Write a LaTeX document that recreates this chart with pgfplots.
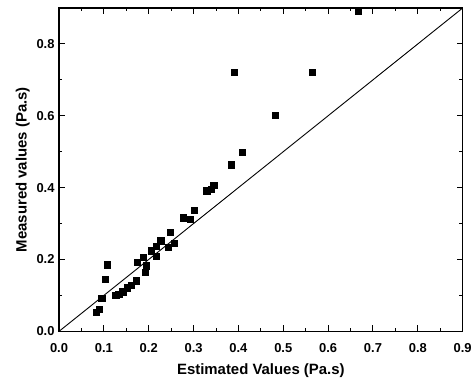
\documentclass[border=0pt]{standalone}
\usepackage{pgfplots}
\pgfplotsset{compat=1.18}
\usepackage{fontspec}
\setmainfont{Liberation Sans}
\begin{document}
\begin{tikzpicture}
\begin{axis}[
  at={(0,0)}, anchor=south west,
  scale only axis,
  width=405.7pt, height=325pt,
  xmin=0, xmax=0.9, ymin=0, ymax=0.9,
  xtick={0,0.1,...,0.9}, ytick={0,0.2,...,0.8},
  minor x tick num=1, minor y tick num=1,
  tick align=inside,
  major tick length=6pt, minor tick length=3.5pt,
  axis line style={line width=1.1pt},
  major tick style={black, line width=1pt},
  minor tick style={black, line width=1pt},
  /pgf/number format/fixed,
  /pgf/number format/fixed zerofill,
  /pgf/number format/precision=1,
  /pgf/number format/assume math mode=true,
  xticklabel style={font=\fontsize{13}{15}\selectfont\bfseries, yshift=-9pt},
  yticklabel style={font=\fontsize{13}{15}\selectfont\bfseries, xshift=-1pt},
  xlabel style={font=\fontsize{15}{17}\selectfont\bfseries, yshift=-4pt},
  ylabel style={font=\fontsize{15}{17}\selectfont\bfseries, yshift=0pt},
  xlabel={Estimated Values (Pa.s)},
  ylabel={Measured values (Pa.s)},
  clip=false,
]
\addplot[black, line width=0.9pt] coordinates {(0,0) (0.9,0.9)};
\addplot[only marks, mark=square*, mark size=3.2pt, black] coordinates {
(0.083,0.053) (0.090,0.061) (0.095,0.093) (0.103,0.145) (0.107,0.185)
(0.126,0.100) (0.133,0.104) (0.142,0.110) (0.152,0.121) (0.161,0.129)
(0.172,0.141) (0.174,0.193) (0.187,0.206) (0.192,0.164) (0.195,0.183)
(0.205,0.224) (0.216,0.237) (0.217,0.210) (0.227,0.252) (0.244,0.234)
(0.248,0.276) (0.257,0.245) (0.277,0.316) (0.292,0.312) (0.302,0.337)
(0.329,0.391) (0.339,0.395) (0.345,0.406) (0.384,0.464) (0.408,0.499)
(0.390,0.721) (0.482,0.601) (0.564,0.721) (0.667,0.891)
};
\end{axis}
\path[use as bounding box] (-59.3pt,-47pt) rectangle (415.7pt,333pt);
\end{tikzpicture}
\end{document}
